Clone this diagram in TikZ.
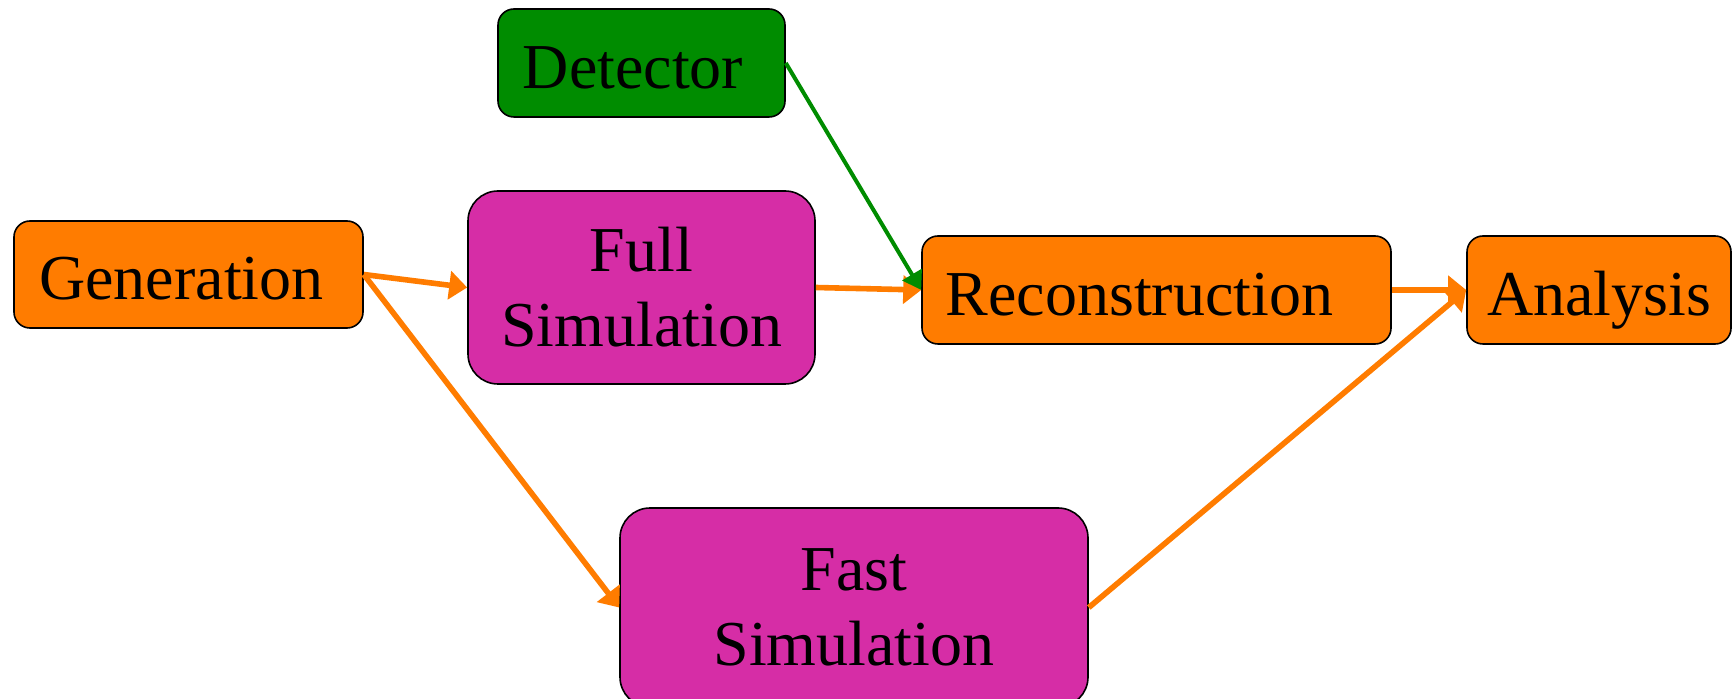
\documentclass[tikz,border=0pt]{standalone}
\usepackage{fontspec}
\setmainfont{Liberation Serif}
\usetikzlibrary{arrows.meta}

\definecolor{boxorange}{RGB}{255,124,0}
\definecolor{boxgreen}{RGB}{0,140,0}
\definecolor{boxmagenta}{RGB}{214,45,166}

\tikzset{
  stage/.style={draw=black, line width=0.8pt, inner sep=0pt,
    font=\fontsize{32}{37.5}\selectfont, align=center},
  small/.style={stage, rounded corners=8pt, text height=25.5pt, text depth=0pt},
  big/.style={stage, rounded corners=15pt},
  flow/.style={draw=boxorange, line width=2.8pt,
    -{Triangle[length=9pt,width=14pt]}},
  feed/.style={draw=boxgreen, line width=2pt,
    -{Triangle[length=9pt,width=11pt]}}
}

\begin{document}
\begin{tikzpicture}[x=0.5pt,y=-0.5pt]
  \useasboundingbox (0,0) rectangle (1733,699);

  % processing stages
  \node[small, fill=boxgreen, minimum width=143.5pt, minimum height=54pt]
    (det) at (641.5,63) {Detector\hspace*{8.5pt}};
  \node[small, fill=boxorange, minimum width=174.5pt, minimum height=53.5pt]
    (gen) at (188.5,274.5) {Generation\hspace*{7pt}};
  \node[big, fill=boxmagenta, minimum width=173.5pt, minimum height=96.5pt]
    (full) at (641.5,287.5) {Full\\Simulation};
  \node[small, fill=boxorange, minimum width=234.5pt, minimum height=54pt]
    (reco) at (1156.5,290) {Reconstruction\hspace*{17pt}};
  \node[small, fill=boxorange, minimum width=132pt, minimum height=54pt]
    (ana) at (1599,290) {Analysis};
  \node[big, fill=boxmagenta, minimum width=234pt, minimum height=99.5pt]
    (fast) at (854,607.5) {Fast\\Simulation};

  % data flow
  \draw[flow] (gen.east) -- (full.west);
  \draw[flow] (gen.east) -- (fast.west);
  \draw[flow] (full.east) -- (reco.west);
  \draw[feed] (det.east) -- (reco.west);
  \draw[flow] (reco.east) -- (ana.west);
  \draw[flow] (fast.east) -- (ana.west);
\end{tikzpicture}
\end{document}
